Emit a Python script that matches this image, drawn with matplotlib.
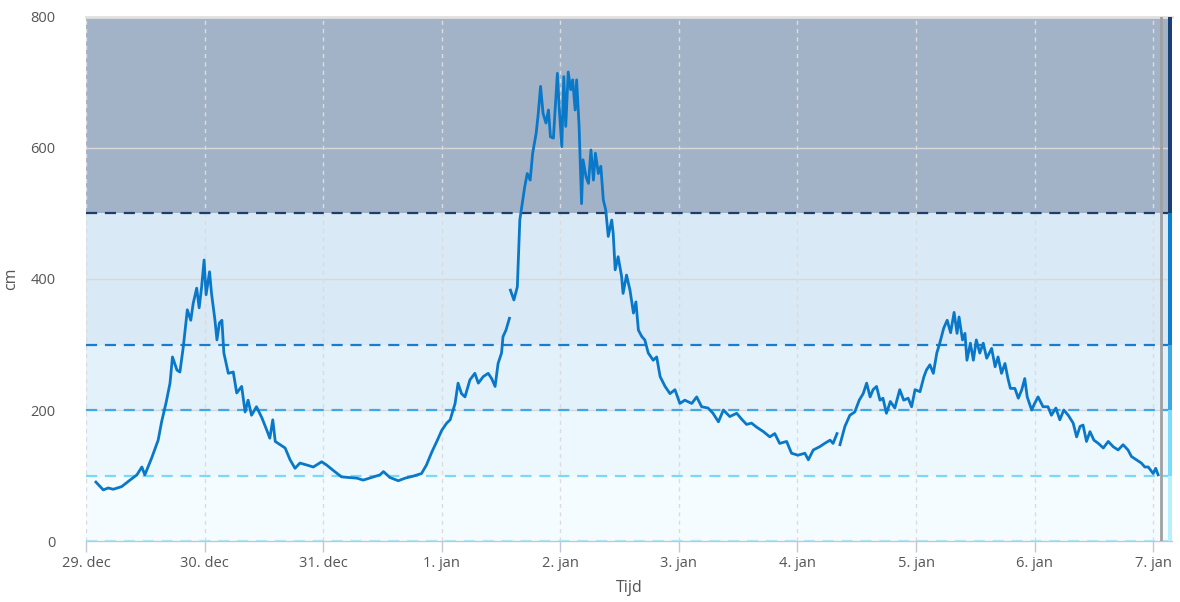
import numpy as np
import matplotlib.pyplot as plt
from matplotlib.patches import Rectangle
import matplotlib.transforms as mtransforms

# waterstand (cm), tijd in uren na 29 dec 00:00; nan = gat in de meetreeks
uren = [
    2.0, 3.5, 4.5, 5.5, 7.2, 8.9, 10.3, 11.3, 11.9, 13.3, 14.6, 15.3, 16.2, 17.0,
    17.5, 18.4, 19.0, 19.7, 20.5, 21.2, 21.7, 22.4, 22.9, 23.4, 23.9, 24.3, 25.0,
    25.4, 26.1, 26.5, 27.0, 27.5, 27.9, 28.8, 29.8, 30.5, 31.5, 32.2, 32.8, 33.5,
    34.5, 35.6, 36.6, 37.2, 37.8, 38.3, 39.3, 40.3, 41.3, 42.3, 43.3, 44.7, 46.0,
    47.7, 48.7, 50.0, 51.7, 53.1, 54.8, 56.1, 57.8, 59.5, 60.2, 61.5, 63.2, 64.6,
    66.2, 67.9, 68.9, 70.0, 71.0, 72.0, 73.0, 73.7, 74.7, 75.3, 76.0, 76.7, 77.7,
    78.7, 79.4, 80.4, 81.4, 82.1, 82.8, 83.4, 84.1, 84.4, 85.0, 85.7, 85.8,
    85.9, 86.6, 87.3, 87.8, 88.4, 88.8, 89.3, 89.9, 90.4, 91.1, 91.5, 92.0, 92.5,
    93.1, 93.6, 94.0, 94.6, 94.9, 95.4, 95.8, 96.3, 96.7, 97.1, 97.6, 98.1, 98.5,
    99.0, 99.3, 99.8, 100.3, 100.6, 101.2, 101.7, 102.2, 102.7, 103.1, 103.7,
    104.2, 104.7, 105.2, 105.7, 106.4, 106.7, 107.1, 107.7, 108.4, 108.7, 109.4,
    110.1, 110.8, 111.3, 111.8, 112.5, 113.1, 113.8, 114.8, 115.5, 116.2, 117.2,
    118.2, 119.2, 120.2, 121.2, 122.6, 123.6, 124.6, 125.9, 126.9, 128.0, 129.0,
    130.3, 131.7, 132.7, 133.7, 134.7, 135.7, 137.1, 138.4, 139.4, 140.4, 141.8,
    142.8, 144.1, 145.5, 146.2, 147.2, 148.5, 149.5, 150.6, 151.2, 152.0, 152.3,
    152.6, 153.6, 154.6, 155.6, 156.5, 157.3, 158.0, 158.7, 159.3, 160.0, 160.7,
    161.3, 162.0, 162.8, 163.7, 164.7, 165.5, 166.4, 167.1, 167.8, 168.8, 169.6,
    170.1, 170.8, 171.5, 172.2, 172.8, 173.6, 174.3, 175.0, 175.7, 176.3, 176.7,
    177.4, 177.9, 178.3, 179.0, 179.6, 180.2, 180.9, 181.6, 182.3, 183.3, 184.0,
    184.6, 185.3, 186.0, 186.6, 187.1, 188.0, 188.7, 189.4, 190.0, 190.5, 191.4,
    192.0, 192.7, 193.7, 194.7, 195.4, 196.3, 197.1, 197.9, 198.8, 199.8, 200.5,
    201.2, 201.8, 202.5, 203.2, 204.0, 204.9, 205.9, 206.9, 207.9, 208.9, 209.9,
    210.9, 211.6, 212.6, 213.6, 214.3, 215.0, 216.0, 216.5, 217.0,
]
waterstand = [
    90, 78, 81, 79, 83, 93, 101, 113, 101, 127, 154, 182, 211, 241,
    281, 261, 258, 297, 353, 337, 363, 386, 356, 388, 429, 376, 411,
    378, 337, 307, 333, 337, 287, 256, 258, 226, 236, 197, 215, 192,
    205, 188, 169, 157, 185, 152, 147, 142, 124, 111, 119, 116, 113,
    121, 116, 108, 98, 97, 96, 93, 97, 101, 106, 97, 92, 96,
    99, 103, 116, 136, 152, 169, 180, 185, 210, 241, 225, 220, 246,
    256, 241, 251, 256, 248, 236, 271, 287, 312, 322, 340, np.nan,
    383, 368, 388, 490, 521, 541, 561, 551, 592, 622, 650, 694, 653,
    638, 658, 617, 615, 653, 714, 658, 602, 709, 633, 716, 689, 704,
    658, 704, 633, 515, 582, 556, 546, 597, 551, 592, 561,
    572, 521, 505, 465, 490, 470, 414, 434, 404, 378, 406,
    383, 348, 365, 322, 312, 307, 287, 276, 281, 251, 236,
    225, 231, 210, 215, 210, 220, 205, 203, 195, 182, 200,
    190, 195, 186, 178, 180, 174, 167, 159, 164, 149, 152,
    134, 131, 134, 124, 139, 144, 149, 154, 149, 164, np.nan,
    147, 175, 192, 197, 215, 225, 241, 220, 231, 236, 215,
    218, 195, 213, 203, 231, 215, 218, 205, 231, 228, 251,
    261, 269, 256, 287, 302, 325, 337, 318, 349, 317, 342,
    307, 317, 276, 302, 276, 307, 287, 302, 279, 294, 266,
    281, 256, 271, 248, 233, 233, 218, 231, 248, 220, 200,
    210, 220, 205, 205, 192, 203, 185, 200, 192, 180, 159,
    175, 177, 152, 167, 154, 149, 142, 152, 144, 139, 147,
    139, 129, 124, 119, 113, 113, 103, 111, 101,
]

dag_labels = ["29. dec", "30. dec", "31. dec", "1. jan", "2. jan", "3. jan",
              "4. jan", "5. jan", "6. jan", "7. jan"]
y_ticks = [0, 200, 400, 600, 800]

# drempels en bijbehorende kleuren
grenzen = [0, 100, 200, 300, 500, 800]
band_kleuren = ["#f5fcff", "#ecf8fe", "#e2f1fa", "#d9e9f5", "#a2b3c8"]
lijn_kleuren = ["#aaecfb", "#79d9f7", "#42a8e4", "#1a7cca", "#1f3d6b"]
balk_kleuren = ["#b5f0fc", "#7adcf8", "#3ca8e4", "#0a7fd0", "#1a3f73"]
nu_uur = 217.5
x_max = 219.8

plt.rcParams['font.family'] = ['Open Sans', 'DejaVu Sans']

fig = plt.figure(figsize=(11.8, 6.02), dpi=100)
ax = fig.add_axes([0.0729, 0.1013, 0.9203, 0.8705])

# achtergrondbanden
for i in range(len(band_kleuren)):
    ax.axhspan(grenzen[i], grenzen[i + 1], color=band_kleuren[i], lw=0, zorder=0)

# rasterlijnen
for yt in y_ticks[1:-1]:
    ax.axhline(yt, color="#d8d8d8", lw=1, zorder=1)
for i in range(len(dag_labels)):
    ax.axvline(i * 24, color="#dcdcdc", lw=1, ls=(0, (3, 3)), zorder=1)

# drempellijnen
for i in range(len(lijn_kleuren)):
    ax.axhline(grenzen[i], color=lijn_kleuren[i], lw=1.6, ls=(0, (5, 3.5)), zorder=2)

# kleurbalk aan de rechterkant
trans = mtransforms.blended_transform_factory(ax.transAxes, ax.transData)
for i in range(len(balk_kleuren)):
    ax.add_patch(Rectangle((0.9963, grenzen[i]), 0.0037, grenzen[i + 1] - grenzen[i],
                           transform=trans, color=balk_kleuren[i], lw=0, zorder=3,
                           clip_on=False))

# huidige tijd
ax.axvline(nu_uur, color="#a0a0a0", lw=2, zorder=3)

ax.plot(uren, waterstand, color="#0a78c8", lw=2.0, zorder=4)

ax.set_xlim(0, x_max)
ax.set_ylim(0, 800)
ax.set_xticks([i * 24 for i in range(len(dag_labels))])
ax.set_xticklabels(dag_labels)
ax.set_yticks(y_ticks)
ax.tick_params(axis='x', colors="#c0c8d8", length=8, width=1, labelcolor="#555555",
               labelsize=10.5, pad=3)
ax.tick_params(axis='y', length=0, labelcolor="#555555", labelsize=10.5, pad=22)
for lbl in ax.get_yticklabels():
    lbl.set_horizontalalignment('right')

for side in ["left", "right"]:
    ax.spines[side].set_visible(False)
ax.spines["top"].set_color("#e0e0e0")
ax.spines["top"].set_linewidth(2)
ax.spines["bottom"].set_color("#c0c8d8")
ax.spines["bottom"].set_linewidth(1)

ax.set_xlabel("Tijd", color="#555555", fontsize=11.5, labelpad=6)
ax.set_ylabel("cm", color="#555555", fontsize=11.5, labelpad=8)

fig.savefig("out.png", dpi=100)
